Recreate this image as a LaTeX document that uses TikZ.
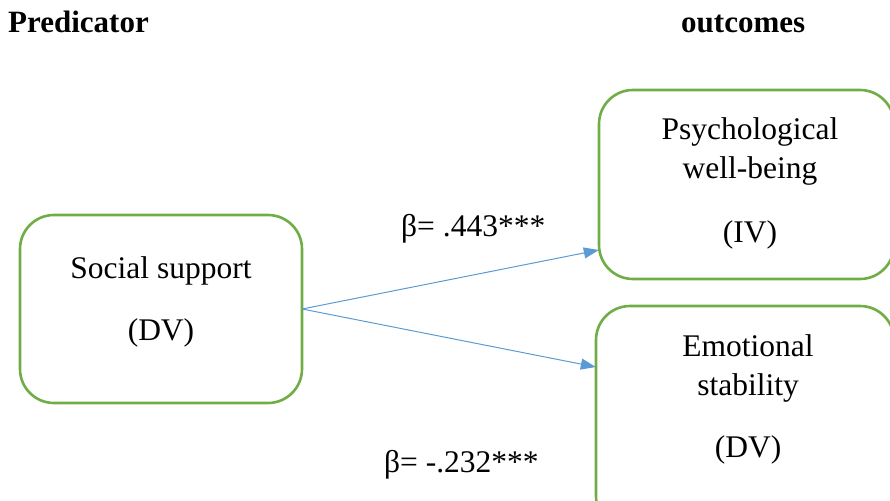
\documentclass[tikz,border=0pt]{standalone}
\usepackage{fontspec}
\setmainfont{Liberation Serif}
\usetikzlibrary{arrows.meta}
\definecolor{boxgreen}{RGB}{112,173,71}
\definecolor{arrowblue}{RGB}{91,155,213}
\begin{document}
\begin{tikzpicture}[x=1pt,y=-1pt,
  box/.style={draw=boxgreen, line width=2.6pt, rounded corners=34pt, inner sep=0pt},
  txt/.style={font=\fontsize{31.5}{38}\selectfont, inner sep=0pt, anchor=base},
  head/.style={font=\fontsize{31}{38}\selectfont\bfseries, inner sep=0pt, anchor=base west},
  lbl/.style={font=\fontsize{31.5}{38}\selectfont, inner sep=0pt, anchor=base west},
  link/.style={draw=arrowblue, line width=1pt, -{Triangle[length=15pt,width=11pt]}}]
\useasboundingbox (0,0) rectangle (890,500);
% headings
\node[head] (hpred) at (8,33) {Predicator};
\node[head] (hout) at (681,33) {outcomes};
% boxes
\draw[box] (20,215) rectangle (302,403);
\node[inner sep=0pt, minimum width=282pt, minimum height=188pt] (ss) at (161,309) {};
\draw[box] (599,90) rectangle (894,279);
\node[inner sep=0pt, minimum width=295pt, minimum height=189pt] (pw) at (746.5,184.5) {};
\draw[box] (596,306) rectangle (894,530);
\node[inner sep=0pt, minimum width=298pt, minimum height=224pt] (es) at (745,418) {};
% box texts
\node[txt] (t1) at (161,278) {Social support};
\node[txt] (t2) at (161,340) {(DV)};
\node[txt] (t3) at (750,139) {Psychological};
\node[txt] (t4) at (750,178) {well-being};
\node[txt] (t5) at (750,242) {(IV)};
\node[txt] (t6) at (748,356) {Emotional};
\node[txt] (t7) at (748,395) {stability};
\node[txt] (t8) at (748,457) {(DV)};
% connectors
\coordinate (a1) at (pw.west |- 0,250);
\coordinate (a2) at (es.west |- 0,367);
\draw[link] (ss.east) -- (a1);
\draw[link] (ss.east) -- (a2);
% labels
\node[lbl] (b1) at (401,236) {β= .443***};
\node[lbl] (b2) at (384,472) {β= -.232***};
\end{tikzpicture}
\end{document}
